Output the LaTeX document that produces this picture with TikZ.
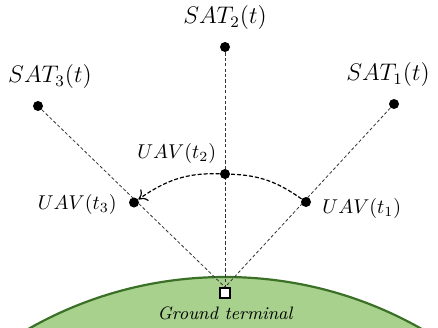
\documentclass[tikz,border=0pt]{standalone}
\usepackage{amsmath,amssymb}
\usepackage{xcolor}
\usepackage{tikz}
\usetikzlibrary{arrows.meta,positioning,calc}
\definecolor{grass}{HTML}{A9D18E}
\definecolor{grassedge}{HTML}{3B7127}
\definecolor{linkgray}{HTML}{333333}

\begin{document}
\begin{tikzpicture}[x=0.5pt,y=0.5pt,
    satdot/.style={circle,fill=black,inner sep=0pt,minimum size=5pt},
    gtbox/.style={draw=black,line width=0.8pt,fill=white,inner sep=0pt,minimum size=5pt},
    link/.style={linkgray,dashed,dash pattern=on 1.6pt off 1.1pt,line width=0.4pt},
    route/.style={black,dash pattern=on 2pt off 1pt,line width=0.6pt,-{To[length=4pt,width=7pt]}}]
  \useasboundingbox (0,0) rectangle (438,327);
  % earth
  \begin{scope}
    \clip (0,0) rectangle (438,327);
    \draw[grassedge,fill=grass,line width=1.1pt] (225,-347.5) circle[radius=198.75pt];
  \end{scope}
  % ground terminal and satellites
  \node[gtbox] (gt) at (225,34) {};
  \node[below=0.5pt of gt,font=\small\itshape] (gtl) {Ground terminal};
  \node[satdot] (sat1) at (394,223) {};
  \node[satdot] (sat2) at (225,280) {};
  \node[satdot] (sat3) at (38,221) {};
  \node[above=2.5pt of sat1,xshift=-3pt,font=\large] (sat1l) {$SAT_1(t)$};
  \node[above=2.5pt of sat2,font=\large] (sat2l) {$SAT_2(t)$};
  \node[above=2.5pt of sat3,xshift=6pt,font=\large] (sat3l) {$SAT_3(t)$};
  % links
  \draw[link] (sat1) -- (gt.north);
  \draw[link] (sat2) -- (gt.north);
  \draw[link] (sat3) -- (gt.north);
  % uav positions
  \node[satdot] (u1) at (306,125) {};
  \node[satdot] (u2) at (225,153) {};
  \node[satdot] (u3) at (134,124.5) {};
  \node[right=2pt of u1,yshift=-3pt] (u1l) {$UAV(t_1)$};
  \node[above left=0pt and -1pt of u2] (u2l) {$UAV(t_2)$};
  \node[left=2.5pt of u3,yshift=-1pt] (u3l) {$UAV(t_3)$};
  \draw[route] (u1) to[out=145,in=-2] (u2) to[out=178,in=35] (u3);
\end{tikzpicture}
\end{document}
